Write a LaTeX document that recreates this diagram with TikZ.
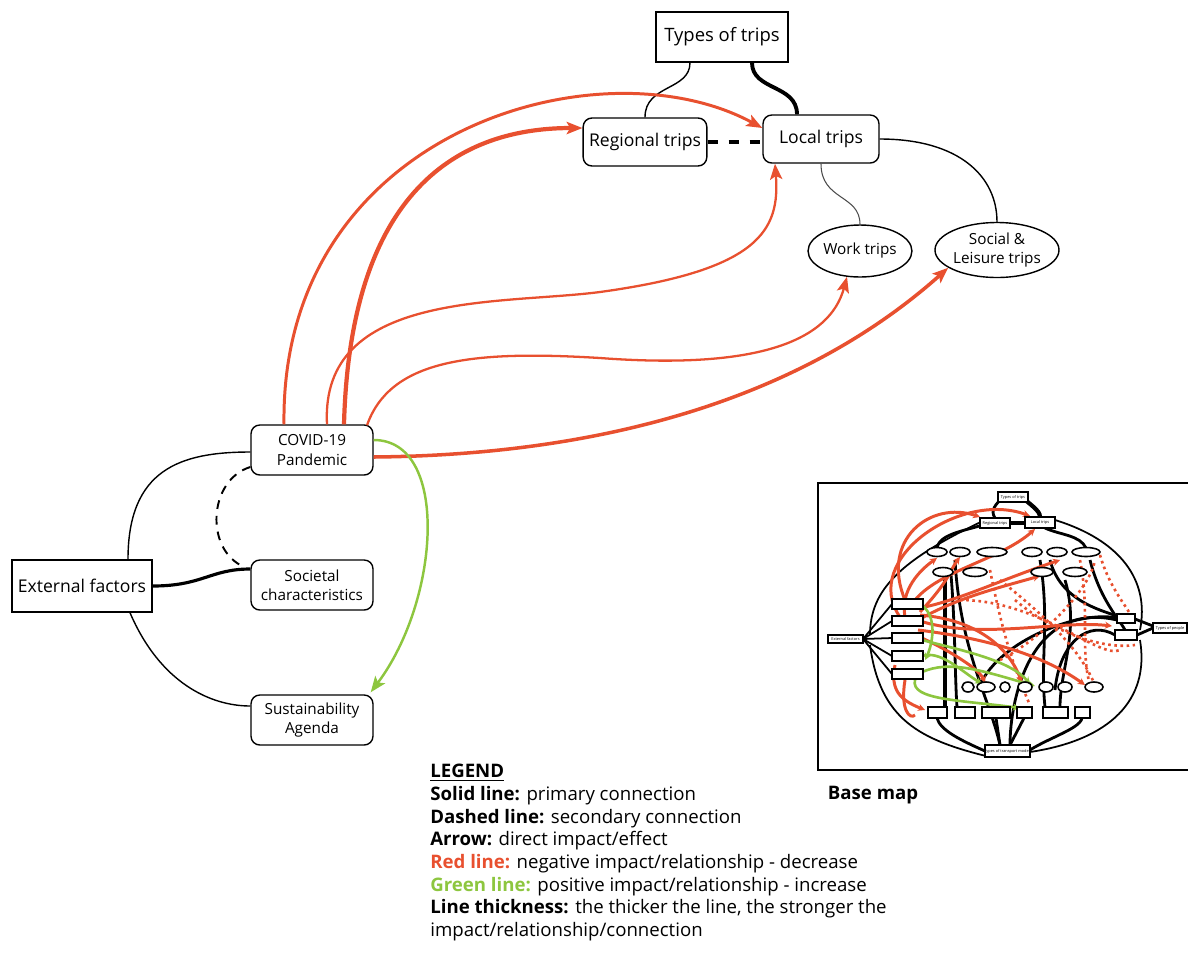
\documentclass[tikz,border=0pt]{standalone}
\usepackage{fontspec}
\setmainfont{Open Sans}
\usepackage{xcolor}
\usetikzlibrary{arrows.meta,calc,shapes.geometric}
\definecolor{negred}{HTML}{E8502F}
\definecolor{posgreen}{HTML}{8DC63F}

\begin{document}
\begin{tikzpicture}[x=0.02cm,y=-0.02cm,
  sqbox/.style={draw,line width=0.8pt,minimum height=1cm,align=center},
  rbox/.style={draw,line width=0.8pt,rounded corners=5pt,minimum width=2.44cm,minimum height=1cm,align=center,font=\fontsize{8.7}{11}\selectfont},
  tripbox/.style={rbox,minimum width=2.32cm,minimum height=0.96cm,font=\fontsize{10}{12}\selectfont},
  oval/.style={draw,ellipse,line width=0.8pt,align=center,inner sep=0pt,font=\fontsize{8.7}{11}\selectfont},
  link/.style={line width=0.8pt},
  strong/.style={line width=2.2pt},
  negarrow/.style={negred,line width=1.6pt,-{Stealth[length=9pt,width=7pt,inset=2pt]}},
  posarrow/.style={posgreen,line width=1.4pt,-{Stealth[length=9pt,width=7pt,inset=2pt]}},
  mini/.style={draw,line width=0.9pt,fill=white},
  minired/.style={negred,line width=1.7pt},
  minidot/.style={negred,line width=1.5pt,dotted},
  miniblack/.style={line width=1.6pt},
  minigreen/.style={posgreen,line width=1.5pt},
  minitext/.style={font=\fontsize{2.2}{2.6}\selectfont,inner sep=0pt}]
\useasboundingbox (0,0) rectangle (1188,968);

% trip types
\node[sqbox,minimum width=2.64cm,font=\fontsize{10.5}{12}\selectfont] (types) at (722,37) {Types of trips};
\node[tripbox] (regional) at (645,142) {Regional trips};
\node[tripbox] (local) at (821,139) {Local trips};
\node[oval,minimum width=1.76cm,minimum height=1.04cm] (work) at (860,251) {Work trips};
\node[oval,minimum width=2.4cm,minimum height=1.1cm] (social) at (997,250) {Social \&\\Leisure trips};

% external factors
\node[sqbox,minimum width=2.8cm,minimum height=1.04cm,font=\fontsize{10}{12}\selectfont] (ext) at (82,586) {External factors};
\node[rbox] (covid) at (312,450) {COVID-19\\Pandemic};
\node[rbox] (society) at (312,585) {Societal\\characteristics};
\node[rbox] (agenda) at (312,720) {Sustainability\\Agenda};

% black connections
\draw[link] ($(types.south)+(-32,0)$) .. controls +(0,28) and +(0,-33) .. (regional.north);
\draw[strong] ($(types.south)+(30,0)$) .. controls +(0,28) and +(0,-30) .. ($(local.north)+(-24,0)$);
\draw[line width=1.8pt,dash pattern=on 6pt off 6pt] (regional.east) -- (regional.east -| local.west);
\draw[gray!60!black,line width=0.6pt] (local.south) .. controls +(0,37) and +(0,-30) .. (work.north);
\draw[link] (local.east) .. controls +(80,0) and +(0,-45) .. (social.north);
\draw[link] ($(ext.north)+(46,0)$) .. controls +(0,-90) and +(-70,0) .. ($(covid.west)+(0,2)$);
\draw[line width=1.8pt] (ext.east) .. controls +(50,0) and +(-40,0) .. ($(society.west)+(0,-16)$);
\draw[link] ($(ext.south)+(48,0)$) .. controls +(30,70) and +(-40,0) .. ($(agenda.west)+(0,-14)$);
\draw[line width=1.1pt,dash pattern=on 5pt off 4pt] ($(covid.west)+(0,17)$) .. controls +(-42,13) and +(-40,-17) .. ($(society.west)+(-6,-18)$);

% covid impacts
\draw[negarrow,line width=1.7pt] ($(covid.north)+(-28,0)$) .. controls (280,130) and (600,40) .. ($(local.west)+(0,-11)$);
\draw[negarrow,line width=2.4pt] ($(covid.north)+(32,0)$) .. controls (350,200) and (450,128) .. ($(regional.west)+(0,-14)$);
\draw[negarrow,line width=1.3pt] ($(covid.north)+(15,0)$) .. controls (320,290) and (500,305) .. (600,292) .. controls (760,270) and (780,230) .. ($(local.south)+(-46,0)$);
\draw[negarrow,line width=1.3pt] ($(covid.north)+(55,1)$) .. controls (390,360) and (470,350) .. (600,358) .. controls (760,370) and (830,340) .. ($(work.south)+(-13,-1)$);
\draw[negarrow,line width=2pt] ($(covid.east)+(0,7)$) .. controls (600,455) and (800,400) .. (social.200);
\draw[posarrow] ($(covid.east)+(0,-10)$) .. controls (450,440) and (440,600) .. ($(agenda.north east)+(-3,-2)$);

% legend
\node[anchor=north west,align=left,inner sep=0pt,font=\fontsize{10.6}{12.9}\selectfont] (legend) at (430,764) {%
\underline{\textbf{LEGEND}}\\
\textbf{Solid line:} primary connection\\
\textbf{Dashed line:} secondary connection\\
\textbf{Arrow:} direct impact/effect\\
\textcolor{negred}{\textbf{Red line:}} negative impact/relationship - decrease\\
\textcolor{posgreen}{\textbf{Green line:}} positive impact/relationship - increase\\
\textbf{Line thickness:} the thicker the line, the stronger the\\
impact/relationship/connection};

% base map
\node[font=\bfseries\fontsize{10.6}{12}\selectfont] (basemap) at (873,795) {Base map};
\draw[line width=0.8pt] (1188,483) -- (818,483) -- (818,770) -- (1188,770);
\begin{scope}
% black links
\draw[miniblack] (1000,745) .. controls (990,700) and (960,650) .. (955,560);
\draw[miniblack] (1010,745) .. controls (1010,700) and (1030,600) .. (1117,620);
\draw[miniblack] (1055,690) .. controls (1060,640) and (1090,620) .. (1115,635);
\draw[miniblack] (980,685) .. controls (1000,640) and (1080,610) .. (1117,618);
\draw[miniblack] (1050,560) .. controls (1060,600) and (1100,610) .. (1117,616);
\draw[miniblack] (1090,560) .. controls (1100,600) and (1120,620) .. (1125,630);
\draw[miniblack] (1040,560) .. controls (1050,620) and (1040,660) .. (1045,707);
\draw[miniblack] (1065,580) .. controls (1080,630) and (1060,670) .. (1060,707);
\draw[line width=2.4pt] (945,575) -- (945,707);
\draw[miniblack] (951,575) .. controls (955,620) and (955,680) .. (957,707);
\draw[miniblack] (1020,757) .. controls (1040,740) and (1080,730) .. (1082,718);
\draw[miniblack] (985,751) .. controls (960,740) and (940,730) .. (937,718);
\draw[miniblack] (1000,745) -- (996,718);
\draw[miniblack] (1010,745) -- (1024,718);
\draw[miniblack] (1000,518) .. controls (980,530) and (940,530) .. (937,548);
\draw[miniblack] (1045,528) .. controls (1060,535) and (1080,535) .. (1086,548);
\draw[miniblack] (1005,495) .. controls (995,505) and (990,510) .. (995,518);
\draw[line width=2.4pt] (1020,495) .. controls (1030,505) and (1040,510) .. (1040,517);
\draw[line width=2.4pt] (1010,523) -- (1025,523);
\draw[miniblack] (1137,635) -- (1153,628);
\draw[miniblack] (1135,619) -- (1153,626);
\draw[line width=1pt] (863,639) -- (892,604);
\draw[line width=1pt] (863,639) -- (892,621);
\draw[line width=1pt] (863,639) -- (892,638);
\draw[line width=1pt] (863,639) -- (892,656);
\draw[line width=1pt] (863,639) -- (892,674);
\draw[line width=1pt] (870,635) .. controls (870,590) and (900,560) .. (985,520);
\draw[line width=1pt] (870,645) .. controls (880,720) and (920,740) .. (990,757);
\draw[line width=1pt] (1140,630) .. controls (1150,580) and (1120,540) .. (1055,520);
\draw[line width=1pt] (1140,640) .. controls (1150,700) and (1110,740) .. (1030,752);
% red links
\draw[minired,-{Stealth[length=4pt,width=4pt]}] (905,600) .. controls (880,540) and (930,500) .. (980,517);
\draw[minired,-{Stealth[length=4pt,width=4pt]}] (900,617) .. controls (860,560) and (960,490) .. (1030,516);
\draw[minired,-{Stealth[length=4pt,width=4pt]}] (915,600) .. controls (940,570) and (1000,560) .. (1035,529);
\draw[minired,-{Stealth[length=4pt,width=4pt]}] (905,617) .. controls (900,590) and (920,570) .. (937,558);
\draw[minired,-{Stealth[length=4pt,width=4pt]}] (910,625) .. controls (950,600) and (990,590) .. (1040,576);
\draw[minired,-{Stealth[length=4pt,width=4pt]}] (920,621) .. controls (980,640) and (1060,620) .. (1112,626);
\draw[minired,-{Stealth[length=4pt,width=4pt]}] (915,635) .. controls (950,650) and (980,670) .. (985,683);
\draw[minired,-{Stealth[length=4pt,width=4pt]}] (895,665) .. controls (890,690) and (900,700) .. (925,710);
\draw[minired,-{Stealth[length=4pt,width=4pt]}] (920,608) .. controls (960,600) and (1000,580) .. (1060,560);
\draw[minired,-{Stealth[length=4pt,width=4pt]}] (920,612) .. controls (950,580) and (950,570) .. (960,557);
\draw[minired,-{Stealth[length=4pt,width=4pt]}] (918,630) .. controls (1000,640) and (1050,660) .. (1085,685);
\draw[minired,-{Stealth[length=4pt,width=4pt]}] (920,615) .. controls (980,620) and (1010,650) .. (1022,683);
\draw[minired] (905,680) .. controls (900,710) and (910,720) .. (915,715);
% dotted red links
\draw[minidot] (1000,580) .. controls (1050,620) and (1080,650) .. (1095,685);
\draw[minidot] (1080,560) .. controls (1090,610) and (1080,650) .. (1090,685);
\draw[minidot] (960,600) .. controls (1040,600) and (1100,660) .. (1120,650);
\draw[minidot] (1000,660) .. controls (1040,640) and (1090,590) .. (1095,560);
\draw[minidot] (1015,600) .. controls (1050,630) and (1100,650) .. (1135,645);
\draw[minidot] (990,570) .. controls (1000,620) and (1010,660) .. (1030,705);
\draw[minidot] (1100,555) .. controls (1110,590) and (1130,610) .. (1130,615);
% green links
\draw[minigreen,-{Stealth[length=4pt,width=4pt]}] (922,605) .. controls (940,620) and (930,650) .. (925,660);
\draw[minigreen,-{Stealth[length=4pt,width=4pt]}] (922,640) .. controls (960,650) and (1010,660) .. (1030,684);
\draw[minigreen,-{Stealth[length=4pt,width=4pt]}] (922,672) .. controls (950,660) and (980,670) .. (1035,686);
\draw[minigreen,-{Stealth[length=4pt,width=4pt]}] (915,680) .. controls (910,700) and (960,700) .. (1020,708);
\draw[minigreen,-{Stealth[length=4pt,width=4pt]}] (922,656) .. controls (940,650) and (960,670) .. (982,684);
% boxes
\draw[mini] (998,492) rectangle (1028,502);
\draw[mini] (980,518) rectangle (1010,528);
\draw[mini] (1025,517) rectangle (1055,528);
\foreach \cx/\rx in {937/10,960/10,992/15,1032/10,1057/10,1086/14}
  \draw[mini] (\cx,552) ellipse [x radius=\rx,y radius=4.5];
\foreach \cx/\rx in {943/10,975/12,1042/11,1075/12}
  \draw[mini] (\cx,572) ellipse [x radius=\rx,y radius=4.5];
\foreach \cy in {604,621,638,656,674}
  \draw[mini] (892,\cy-5) rectangle (923,\cy+5);
\draw[mini] (828,635) rectangle (863,643);
\draw[mini] (1117,614) rectangle (1135,623);
\draw[mini] (1115,630) rectangle (1137,640);
\draw[mini] (1153,623) rectangle (1187,633);
\foreach \cx/\rx in {968/6,986/9,1005/5,1025/7,1046/7,1065/7,1094/9}
  \draw[mini] (\cx,687) ellipse [x radius=\rx,y radius=5];
\foreach \xa/\xb in {928/947,955/975,982/1010,1017/1032,1043/1068,1075/1090}
  \draw[mini] (\xa,707) rectangle (\xb,718);
\draw[mini] (985,745) rectangle (1030,757);
\node[minitext] (mtypes) at (1013,497) {Types of trips};
\node[minitext] (mregional) at (995,523) {Regional trips};
\node[minitext] (mlocal) at (1040,522.5) {Local trips};
\node[minitext] (mext) at (845.5,639) {External factors};
\node[minitext] (mpeople) at (1170,628) {Types of people};
\node[minitext] (mmodes) at (1007.5,751) {Types of transport modes};
\end{scope}
\end{tikzpicture}
\end{document}
